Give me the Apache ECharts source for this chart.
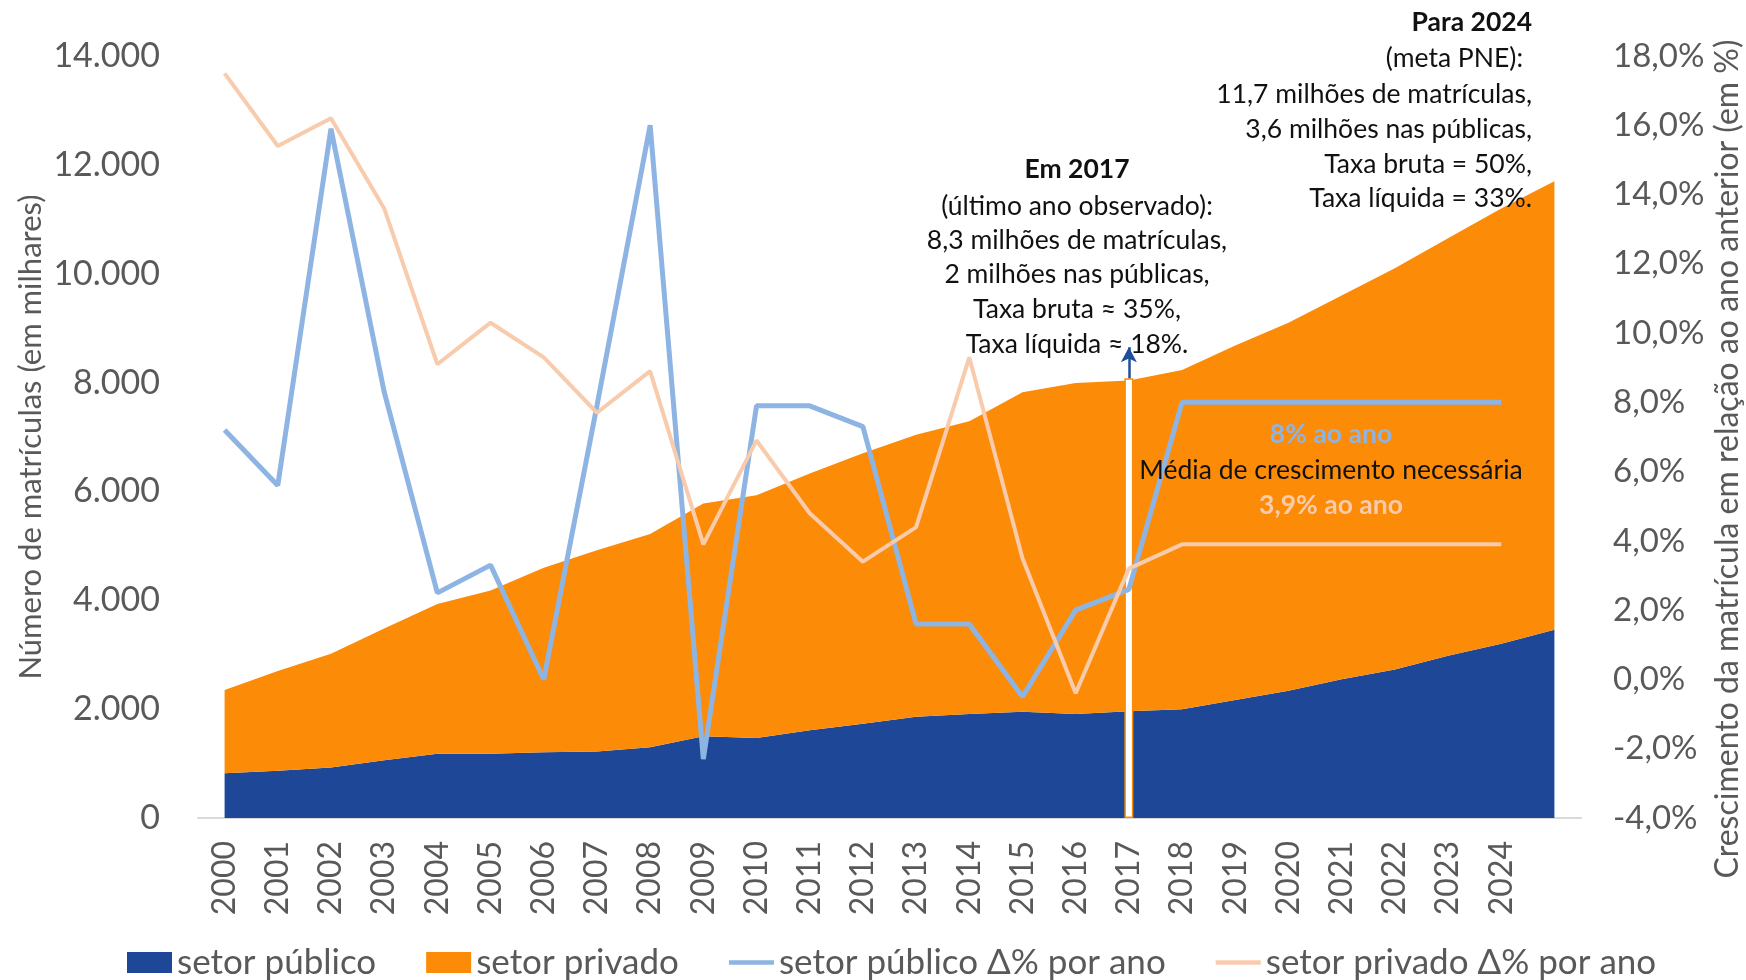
<!DOCTYPE html>
<html>
<head>
<meta charset="utf-8">
<title>Matrículas no ensino superior</title>
<script src="https://cdn.jsdelivr.net/npm/echarts@6/dist/echarts.min.js"></script>
<style>
  html, body { margin: 0; padding: 0; background: #fff; }
  #chart { width: 1746px; height: 980px; }
</style>
</head>
<body>
<div id="chart"></div>
<script>
// categorias (a última fica sem rótulo, a área chega até ela)
const years = ['2000', '2001', '2002', '2003', '2004', '2005', '2006', '2007', '2008', '2009',
  '2010', '2011', '2012', '2013', '2014', '2015', '2016', '2017', '2018', '2019',
  '2020', '2021', '2022', '2023', '2024', '']

// matrículas em milhares
const publicEnroll = [820, 870, 930, 1060, 1180, 1180, 1210, 1220, 1300, 1500,
  1470, 1610, 1730, 1860, 1910, 1950, 1910, 1960, 2000, 2170,
  2340, 2550, 2730, 2980, 3200, 3460]
const privateEnroll = [1530, 1830, 2090, 2420, 2750, 3000, 3390, 3700, 3920, 4280,
  4460, 4720, 4970, 5180, 5380, 5870, 6080, 6080, 6230, 6510,
  6760, 7050, 7370, 7670, 8000, 8240]

// crescimento anual (%)
const publicGrowth = [7.2, 5.6, 15.9, 8.3, 2.5, 3.3, 0.0, 7.9, 16.0, -2.3,
  7.9, 7.9, 7.3, 1.6, 1.6, -0.5, 2.0, 2.6, 8.0, 8.0,
  8.0, 8.0, 8.0, 8.0, 8.0]
const privateGrowth = [17.5, 15.4, 16.2, 13.6, 9.1, 10.3, 9.3, 7.7, 8.9, 3.9,
  6.9, 4.8, 3.4, 4.4, 9.3, 3.5, -0.4, 3.2, 3.9, 3.9,
  3.9, 3.9, 3.9, 3.9, 3.9]

// marcador do último ano observado
const markerYear = '2017'
const markerTop = 8080
const arrowTip = 8650

const FONT = 'Lato, "Open Sans", sans-serif'
const GREY = '#595959'
const C_PUB = '#1e4797'
const C_PRIV = '#fc8b07'
const C_PUB_G = '#8db4e2'
const C_PRIV_G = '#f8cbad'
const LINE_ICON = 'path://M0,0H40V4H0Z'

const fmtThousands = v => String(v).replace(/\B(?=(\d{3})+(?!\d))/g, '.')
const fmtPct = v => v.toFixed(1).replace('.', ',') + '%'

const chart = echarts.init(document.getElementById('chart'))

const txt = (text, x, y, opts = {}) => ({
  type: 'text',
  x, y,
  rotation: opts.rotation || 0,
  style: {
    text,
    fill: opts.color || '#111',
    font: `${opts.bold ? 'bold ' : ''}${opts.size || 26.5}px ${FONT}`,
    textAlign: opts.align || 'center',
    textVerticalAlign: 'middle'
  },
  z: 100
})

const option = {
  animation: false,
  textStyle: { fontFamily: FONT },
  grid: { left: 198, right: 165, top: 56, bottom: 162 },
  legend: {
    top: 940,
    left: 122,
    itemWidth: 45,
    itemHeight: 21,
    itemGap: 50,
    textStyle: { fontSize: 35, color: GREY, fontFamily: FONT },
    data: [
      { name: 'setor público', icon: 'rect' },
      { name: 'setor privado', icon: 'rect' },
      { name: 'setor público Δ% por ano', icon: LINE_ICON },
      { name: 'setor privado Δ% por ano', icon: LINE_ICON }
    ]
  },
  xAxis: {
    type: 'category',
    data: years,
    boundaryGap: true,
    axisLine: { lineStyle: { color: '#d9d9d9', width: 2 } },
    axisTick: { interval: 0, length: 10, lineStyle: { color: '#d9d9d9', width: 2 } },
    axisLabel: { interval: 0, rotate: 90, fontSize: 32, color: GREY, margin: 23 }
  },
  yAxis: [
    {
      type: 'value',
      min: 0, max: 14000, interval: 2000,
      axisLine: { show: false },
      axisTick: { show: false },
      splitLine: { show: false },
      axisLabel: { fontSize: 34, color: GREY, margin: 38, formatter: fmtThousands }
    },
    {
      type: 'value',
      min: -4, max: 18, interval: 2,
      axisLine: { show: false },
      axisTick: { show: false },
      splitLine: { show: false },
      axisLabel: { fontSize: 33, color: GREY, margin: 32, formatter: fmtPct }
    }
  ],
  series: [
    {
      name: 'setor público',
      type: 'line',
      stack: 'matriculas',
      symbol: 'none',
      z: 2,
      lineStyle: { width: 0 },
      areaStyle: { color: C_PUB, opacity: 1 },
      itemStyle: { color: C_PUB },
      data: publicEnroll
    },
    {
      name: 'setor privado',
      type: 'line',
      stack: 'matriculas',
      symbol: 'none',
      z: 2,
      lineStyle: { width: 0 },
      areaStyle: { color: C_PRIV, opacity: 1 },
      itemStyle: { color: C_PRIV },
      data: privateEnroll
    },
    {
      name: 'marcador',
      type: 'bar',
      z: 4,
      barWidth: 9,
      itemStyle: { color: '#fff', borderColor: C_PRIV, borderWidth: 1.5 },
      data: years.map(y => (y === markerYear ? markerTop : '-')),
      markLine: {
        silent: true,
        symbol: ['none', 'arrow'],
        symbolSize: [12, 15],
        label: { show: false },
        lineStyle: { color: '#1f4e9a', width: 2.5, type: 'solid' },
        data: [[{ coord: [markerYear, markerTop] }, { coord: [markerYear, arrowTip] }]]
      }
    },
    {
      name: 'setor público Δ% por ano',
      type: 'line',
      yAxisIndex: 1,
      symbol: 'none',
      z: 5,
      lineStyle: { width: 5, color: C_PUB_G },
      itemStyle: { color: C_PUB_G },
      data: publicGrowth
    },
    {
      name: 'setor privado Δ% por ano',
      type: 'line',
      yAxisIndex: 1,
      symbol: 'none',
      z: 5,
      lineStyle: { width: 4, color: C_PRIV_G },
      itemStyle: { color: C_PRIV_G },
      data: privateGrowth
    }
  ],
  graphic: [
    txt('Número de matrículas (em milhares)', 31, 437, { rotation: Math.PI / 2, size: 31, color: GREY }),
    txt('Crescimento da matrícula em relação ao ano anterior (em %)', 1728, 459, { rotation: Math.PI / 2, size: 32, color: GREY }),

    txt('Em 2017', 1077, 169, { bold: true }),
    txt('(último ano observado):', 1077, 206),
    txt('8,3 milhões de matrículas,', 1077, 240),
    txt('2 milhões nas públicas,', 1077, 274),
    txt('Taxa bruta ≈ 35%,', 1077, 309),
    txt('Taxa líquida ≈ 18%.', 1077, 344),

    txt('Para 2024', 1532, 22, { bold: true, align: 'right' }),
    txt('(meta PNE):', 1523, 58, { align: 'right' }),
    txt('11,7 milhões de matrículas,', 1532, 94, { align: 'right' }),
    txt('3,6 milhões nas públicas,', 1532, 129, { align: 'right' }),
    txt('Taxa bruta = 50%,', 1532, 164, { align: 'right' }),
    txt('Taxa líquida = 33%.', 1532, 198, { align: 'right' }),

    txt('8% ao ano', 1331, 434, { bold: true, color: C_PUB_G }),
    txt('Média de crescimento necessária', 1331, 470),
    txt('3,9% ao ano', 1331, 505, { bold: true, color: C_PRIV_G })
  ]
}

chart.setOption(option)
window.addEventListener('resize', () => chart.resize())
</script>
</body>
</html>
